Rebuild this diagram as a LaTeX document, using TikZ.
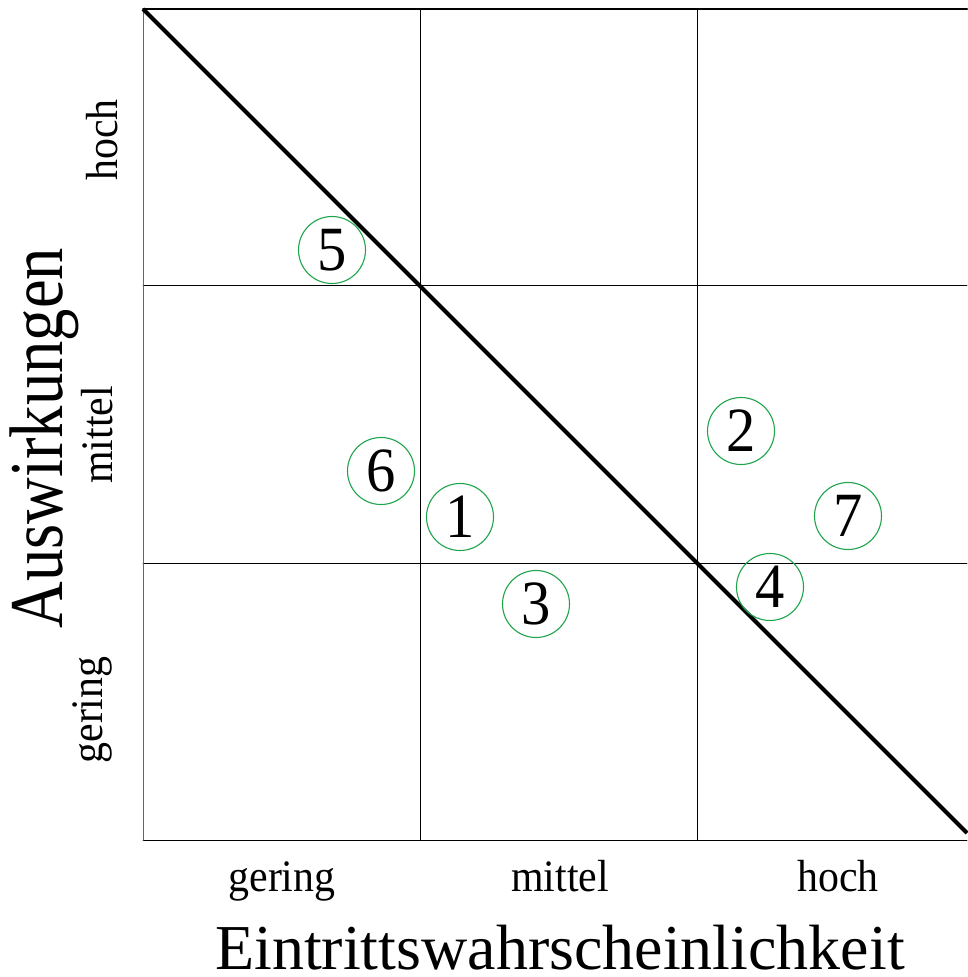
\documentclass[tikz,border=0pt]{standalone}
\usepackage{fontspec}
\setmainfont{Liberation Serif}
\newfontfamily\narrowserif[FakeStretch=0.93]{Liberation Serif}
\newfontfamily\condserif[FakeStretch=0.85]{Liberation Serif}
\definecolor{riskgreen}{RGB}{30,165,75}
\begin{document}
\begin{tikzpicture}[x=1pt, y=-1pt, line join=round, line cap=round,
    risk/.style={circle, draw=riskgreen, line width=1.1pt, minimum size=67pt, inner sep=0pt,
      font=\narrowserif\fontsize{63}{63}\selectfont},
    level/.style={inner sep=0pt, font=\narrowserif\fontsize{45}{45}\selectfont},
    axis/.style={inner sep=0pt, font=\fontsize{64}{64}\selectfont}]
  \useasboundingbox (0,0) rectangle (967,977);
  % grid
  \coordinate (TL) at (143,9);
  \coordinate (TR) at (967,9);
  \coordinate (BL) at (143,840);
  \coordinate (BR) at (967,840);
  \coordinate (X1) at (420,9);
  \coordinate (X2) at (697,9);
  \coordinate (Y1) at (143,285);
  \coordinate (Y2) at (143,563);
  \coordinate (E) at (967,833);

  \draw[line width=2pt] (TL) -- (TR);
  \draw[line width=0.9pt] (BL) -- (BR) (Y1) -- (Y1 -| BR) (Y2) -- (Y2 -| BR);
  \draw[line width=0.9pt] (X1) -- (X1 |- BL) (X2) -- (X2 |- BL);
  \draw[line width=1pt, black!60] (TL) -- (BL);
  \draw[line width=4pt, line cap=butt] (TL) -- (E);

  % risks
  \foreach \n/\x/\y in {5/332/250, 6/381/471, 1/460/517, 3/536/604, 2/741/431, 7/848/516, 4/770/587} {
    \node[risk] (r\n) at (\x,\y) {\n};
  }

  % labels
  \node[level, rotate=90, anchor=base] (lh) at (117,140) {hoch};
  \node[level, rotate=90, anchor=base] (lm) at (112,435) {mittel};
  \node[level, rotate=90, anchor=base] (lg) at (102,710) {gering};
  \node[axis, rotate=90, anchor=base, font=\condserif\fontsize{76}{76}\selectfont] (ay) at (62,438) {Auswirkungen};

  \node[level, anchor=base] (bg) at (282,891) {gering};
  \node[level, anchor=base] (bm) at (560,891) {mittel};
  \node[level, anchor=base] (bh) at (838,891) {hoch};
  \node[axis, anchor=base] (ax) at (560,969) {Eintrittswahrscheinlichkeit};
\end{tikzpicture}
\end{document}
